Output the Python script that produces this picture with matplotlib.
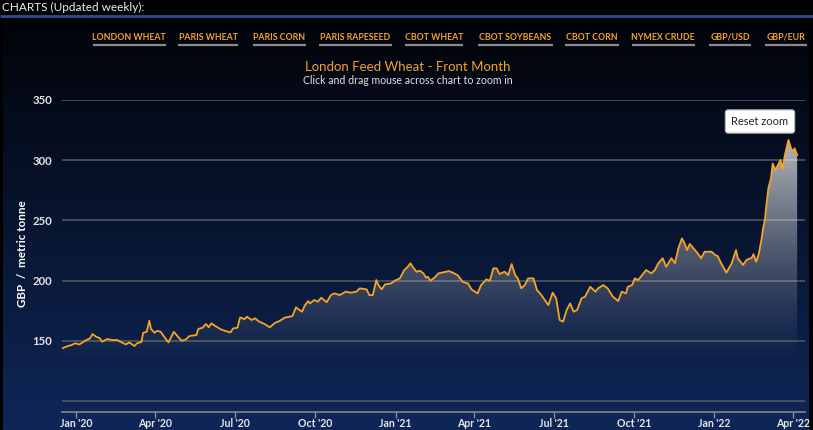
import numpy as np
import pandas as pd
import matplotlib
matplotlib.use("Agg")
import matplotlib.pyplot as plt
import matplotlib.dates as mdates

plt.rcParams["font.family"] = ["Lato", "DejaVu Sans"]

# London feed wheat front month, GBP / tonne
dates = [
    "2019-12-16", "2019-12-23", "2019-12-27", "2019-12-31", "2020-01-05", "2020-01-13",
    "2020-01-17", "2020-01-20", "2020-01-24", "2020-01-28", "2020-01-31", "2020-02-06",
    "2020-02-11", "2020-02-17", "2020-02-21", "2020-02-27", "2020-03-02", "2020-03-08",
    "2020-03-11", "2020-03-16", "2020-03-18", "2020-03-22", "2020-03-25", "2020-03-27",
    "2020-03-31", "2020-04-03", "2020-04-07", "2020-04-11", "2020-04-16", "2020-04-22",
    "2020-04-27", "2020-05-01", "2020-05-06", "2020-05-10", "2020-05-18", "2020-05-20",
    "2020-05-25", "2020-05-29", "2020-06-01", "2020-06-04", "2020-06-10", "2020-06-15",
    "2020-06-21", "2020-06-26", "2020-06-29", "2020-07-04", "2020-07-07", "2020-07-12",
    "2020-07-15", "2020-07-20", "2020-07-24", "2020-07-29", "2020-08-04", "2020-08-10",
    "2020-08-16", "2020-08-21", "2020-08-27", "2020-09-05", "2020-09-09", "2020-09-13",
    "2020-09-16", "2020-09-19", "2020-09-23", "2020-09-25", "2020-09-30", "2020-10-04",
    "2020-10-08", "2020-10-14", "2020-10-19", "2020-10-23", "2020-10-29", "2020-11-05",
    "2020-11-11", "2020-11-17", "2020-11-21", "2020-11-29", "2020-12-02", "2020-12-06",
    "2020-12-10", "2020-12-12", "2020-12-16", "2020-12-20", "2020-12-27", "2020-12-31",
    "2021-01-06", "2021-01-11", "2021-01-15", "2021-01-18", "2021-01-22", "2021-01-25",
    "2021-01-29", "2021-02-02", "2021-02-05", "2021-02-07", "2021-02-10", "2021-02-15",
    "2021-02-19", "2021-02-24", "2021-03-03", "2021-03-08", "2021-03-13", "2021-03-19",
    "2021-03-25", "2021-03-29", "2021-04-02", "2021-04-05", "2021-04-09", "2021-04-15",
    "2021-04-19", "2021-04-23", "2021-04-27", "2021-04-30", "2021-05-06", "2021-05-10",
    "2021-05-14", "2021-05-18", "2021-05-21", "2021-05-25", "2021-05-29", "2021-06-02",
    "2021-06-08", "2021-06-12", "2021-06-17", "2021-06-25", "2021-06-30", "2021-07-04",
    "2021-07-08", "2021-07-12", "2021-07-16", "2021-07-20", "2021-07-24", "2021-07-28",
    "2021-08-02", "2021-08-06", "2021-08-12", "2021-08-18", "2021-08-21", "2021-08-27",
    "2021-09-01", "2021-09-07", "2021-09-13", "2021-09-17", "2021-09-22", "2021-09-24",
    "2021-09-29", "2021-10-02", "2021-10-06", "2021-10-12", "2021-10-15", "2021-10-21",
    "2021-10-25", "2021-10-29", "2021-11-03", "2021-11-07", "2021-11-13", "2021-11-17",
    "2021-11-21", "2021-11-25", "2021-11-28", "2021-12-01", "2021-12-04", "2021-12-10",
    "2021-12-13", "2021-12-17", "2021-12-21", "2021-12-29", "2022-01-02", "2022-01-05",
    "2022-01-09", "2022-01-15", "2022-01-21", "2022-01-26", "2022-01-28", "2022-02-03",
    "2022-02-07", "2022-02-13", "2022-02-15", "2022-02-18", "2022-02-21", "2022-02-24",
    "2022-02-26", "2022-02-28", "2022-03-02", "2022-03-04", "2022-03-07", "2022-03-09",
    "2022-03-12", "2022-03-16", "2022-03-18", "2022-03-20", "2022-03-23", "2022-03-27",
    "2022-03-30", "2022-04-01", "2022-04-03", "2022-04-06",
]
prices = [
    143.8, 145.7, 146.5, 148.0, 147.0, 150.7,
    152.0, 155.6, 153.4, 152.3, 149.3, 151.5,
    150.7, 150.7, 149.3, 147.0, 148.7, 145.7,
    148.0, 149.0, 156.7, 157.5, 166.7, 159.8,
    156.7, 158.4, 157.5, 153.4, 148.7, 157.5,
    153.4, 150.0, 151.2, 154.0, 154.8, 159.8,
    160.9, 164.0, 161.2, 164.5, 161.7, 159.5,
    158.0, 157.0, 160.3, 160.9, 169.5, 168.0,
    170.0, 167.3, 168.7, 165.9, 164.0, 161.2,
    165.0, 166.4, 169.2, 170.6, 177.8, 175.6,
    174.2, 179.2, 183.0, 181.1, 183.9, 182.5,
    185.8, 182.0, 188.0, 189.4, 188.0, 190.8,
    190.0, 190.8, 193.6, 192.7, 188.0, 188.0,
    200.5, 196.9, 192.7, 196.9, 197.7, 199.9,
    201.9, 208.8, 211.5, 214.4, 210.2, 207.4,
    208.2, 206.0, 202.4, 203.2, 199.9, 202.7,
    206.0, 206.8, 207.9, 206.5, 204.6, 199.0,
    197.7, 192.7, 190.8, 189.4, 196.3, 201.0,
    199.9, 210.2, 210.2, 205.5, 207.4, 204.6,
    213.8, 204.6, 201.9, 193.6, 196.3, 201.9,
    201.9, 192.2, 188.0, 179.7, 190.0, 185.3,
    167.3, 165.9, 175.6, 181.1, 174.2, 175.6,
    185.3, 186.6, 194.9, 190.8, 193.6, 196.3,
    193.6, 186.6, 183.0, 190.8, 189.4, 194.9,
    196.3, 201.9, 200.5, 206.0, 208.8, 206.0,
    208.8, 214.4, 218.6, 211.5, 218.6, 214.4,
    226.8, 235.1, 231.0, 225.4, 230.4, 225.4,
    222.7, 218.6, 224.0, 224.0, 221.3, 220.4,
    214.4, 206.6, 214.4, 225.4, 218.6, 213.0,
    217.1, 219.0, 222.0, 215.7, 222.0, 233.6,
    243.4, 250.3, 264.1, 276.6, 284.9, 297.3,
    291.8, 297.3, 300.2, 292.4, 304.3, 316.8,
    309.9, 307.1, 309.9, 304.3,
]

menu_items = ["LONDON WHEAT", "PARIS WHEAT", "PARIS CORN", "PARIS RAPESEED", "CBOT WHEAT",
              "CBOT SOYBEANS", "CBOT CORN", "NYMEX CRUDE", "GBP/USD", "GBP/EUR"]
menu_x = [129, 208, 279, 355, 434, 515, 592, 663, 730, 786]
menu_w = [73, 60, 53, 73, 58, 75, 54, 63, 42, 42]

y_ticks = [100, 150, 200, 250, 300, 350]

LINE_COLOR = "#f7a326"
ORANGE_TXT = "#f4a12a"
GRID_COLOR = "#575b62"

W, H = 813, 430
fig = plt.figure(figsize=(W / 100, H / 100), dpi=100)
fig.patch.set_facecolor("black")

# background / page decoration, in pixel coordinates
bg = fig.add_axes([0, 0, 1, 1])
bg.set_xlim(0, W)
bg.set_ylim(H, 0)
bg.set_axis_off()
top = np.array([0x01, 0x03, 0x08]) / 255
bot = np.array([0x0f, 0x27, 0x58]) / 255
t = np.linspace(0, 1, 256)[:, None]
grad = (top + (bot - top) * t)[:, None, :]
bg.imshow(grad, extent=[3, 808, H, 17], aspect="auto", origin="upper", zorder=0)
bg.plot([0, W], [15.5, 15.5], color="#2c4f8f", lw=2, solid_capstyle="butt", zorder=2)
bg.text(2, 7, "CHARTS (Updated weekly):", color="#f0f0f0", fontsize=8.5,
        va="center", ha="left", zorder=3)
for name, cx, w in zip(menu_items, menu_x, menu_w):
    bg.text(cx, 37.5, name, color=ORANGE_TXT, fontsize=6.3, fontweight="bold",
            ha="center", va="center", zorder=3)
    bg.plot([cx - w / 2, cx + w / 2], [45, 45], color="#8a8a8a", lw=1.6,
            solid_capstyle="butt", zorder=3)
bg.text(408, 67, "London Feed Wheat - Front Month", color=ORANGE_TXT, fontsize=9.5,
        ha="center", va="center", zorder=3)
bg.text(408, 81, "Click and drag mouse across chart to zoom in", color="#e2e2e2",
        fontsize=7.6, ha="center", va="center", zorder=3)
bg.text(22, 254, "GBP  /  metric tonne", color="white", fontsize=8.4, fontweight="bold",
        rotation=90, ha="center", va="center", zorder=3)
bg.text(760, 121.5, "Reset zoom", color="#222222", fontsize=8, ha="center", va="center",
        zorder=5, bbox=dict(boxstyle="round,pad=0.55,rounding_size=0.25",
                            fc="white", ec="#bbbbbb", lw=0.8))

# main chart
ax = fig.add_axes([62 / W, 18 / H, 743 / W, 312 / H])
ax.patch.set_alpha(0)

x = pd.to_datetime(dates)
y = np.array(prices)
xnum = mdates.date2num(x)
x0 = mdates.date2num(pd.Timestamp("2019-12-16"))
x1 = mdates.date2num(pd.Timestamp("2022-04-15"))
ymin, ymax = 90.9, 350

for v in y_ticks:
    ax.axhline(v, color=GRID_COLOR, lw=1.1, zorder=1)

# gradient fill under the line
poly = ax.fill_between(xnum, y, ymin, color="none", lw=0)
vals = np.linspace(ymin, ymax, 300)
alpha = np.clip((vals - 130) / (316 - 130), 0, 1) ** 1.3 * 0.7
rgba = np.ones((300, 1, 4))
rgba[:, 0, 3] = alpha
img = ax.imshow(rgba, extent=[x0, x1, ymin, ymax], aspect="auto", origin="lower",
                zorder=2, interpolation="bilinear")
img.set_clip_path(poly.get_paths()[0], transform=ax.transData)

ax.plot(xnum, y, color=LINE_COLOR, lw=1.3, zorder=3, solid_joinstyle="round")

ax.set_xlim(x0, x1)
ax.set_ylim(ymin, ymax)
ax.set_yticks(y_ticks[1:])
ax.xaxis.set_major_locator(mdates.MonthLocator(bymonth=[1, 4, 7, 10]))
ax.xaxis.set_major_formatter(mdates.DateFormatter("%b '%y"))

for s in ["top", "right", "left"]:
    ax.spines[s].set_visible(False)
ax.spines["bottom"].set_color("#8a8e96")
ax.spines["bottom"].set_linewidth(1.1)
ax.tick_params(axis="x", colors="#8a8e96", length=4, width=1, pad=0.5,
               labelcolor="#e6e6e6", labelsize=7.6)
ax.tick_params(axis="y", length=0, pad=7, labelcolor="#e6e6e6", labelsize=8.2)
for lab in ax.get_xticklabels() + ax.get_yticklabels():
    lab.set_fontweight("bold")

fig.savefig("out.png", dpi=100, facecolor=fig.get_facecolor())
